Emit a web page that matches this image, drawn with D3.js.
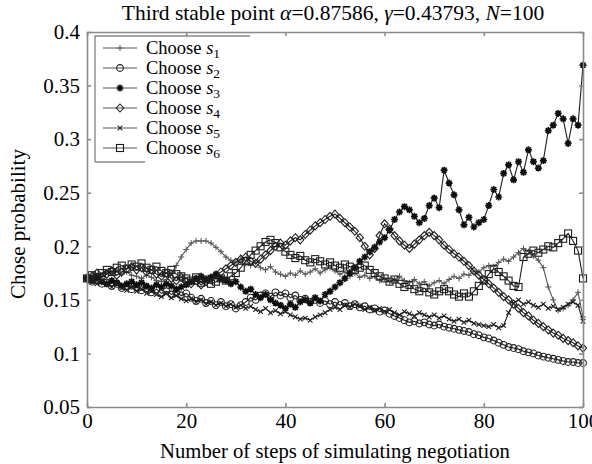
<!DOCTYPE html>
<html>
<head>
<meta charset="utf-8">
<script src="https://cdn.jsdelivr.net/npm/d3@7"></script>
<style>
  body { margin: 0; background: #fff; }
  svg { display: block; }
  .axis path, .axis line { stroke: #8a8a8a; stroke-width: 1.6; }
</style>
</head>
<body>
<svg id="chart" width="592" height="464"></svg>
<script>
// steps 0..100
var steps = d3.range(0, 101);
var seriesNames = ["1", "2", "3", "4", "5", "6"];
var xTicks = [0, 20, 40, 60, 80, 100];
var yTicks = [0.05, 0.1, 0.15, 0.2, 0.25, 0.3, 0.35, 0.4];

var s1 = [0.170,0.172,0.169,0.173,0.176,0.175,0.178,0.174,0.176,0.173,0.172,
  0.170,0.173,0.171,0.168,0.167,0.169,0.175,0.182,0.190,0.197,
  0.203,0.205,0.205,0.205,0.203,0.199,0.195,0.190,0.187,0.185,
  0.188,0.184,0.182,0.185,0.180,0.178,0.181,0.176,0.174,0.172,
  0.175,0.173,0.177,0.174,0.176,0.179,0.175,0.178,0.180,0.177,
  0.174,0.176,0.172,0.175,0.171,0.173,0.170,0.172,0.168,0.170,
  0.167,0.169,0.172,0.168,0.166,0.169,0.165,0.167,0.163,0.166,
  0.168,0.165,0.169,0.172,0.170,0.174,0.173,0.177,0.176,0.180,
  0.182,0.181,0.185,0.188,0.186,0.190,0.194,0.198,0.195,0.191,
  0.187,0.180,0.162,0.150,0.140,0.142,0.145,0.150,0.157,0.134];
var s2 = [0.170,0.167,0.168,0.165,0.166,0.163,0.165,0.161,0.163,0.160,0.162,
  0.159,0.161,0.157,0.160,0.156,0.158,0.155,0.157,0.154,0.156,
  0.152,0.149,0.151,0.147,0.149,0.145,0.148,0.144,0.146,0.142,
  0.145,0.148,0.152,0.150,0.154,0.156,0.153,0.157,0.154,0.156,
  0.152,0.154,0.150,0.151,0.148,0.150,0.147,0.149,0.146,0.148,
  0.145,0.147,0.144,0.146,0.143,0.144,0.141,0.142,0.139,0.140,
  0.137,0.135,0.133,0.131,0.129,0.130,0.128,0.129,0.127,0.126,
  0.127,0.125,0.124,0.123,0.122,0.121,0.120,0.118,0.117,0.115,
  0.114,0.112,0.110,0.108,0.106,0.105,0.104,0.102,0.101,0.100,
  0.098,0.097,0.096,0.095,0.094,0.093,0.092,0.092,0.091,0.091];
var s3 = [0.170,0.168,0.171,0.167,0.165,0.168,0.166,0.163,0.165,0.167,0.164,
  0.166,0.163,0.161,0.164,0.162,0.165,0.163,0.160,0.162,0.164,
  0.167,0.170,0.172,0.169,0.171,0.174,0.170,0.168,0.165,0.167,
  0.162,0.158,0.160,0.155,0.152,0.155,0.150,0.147,0.145,0.142,
  0.146,0.143,0.148,0.150,0.147,0.152,0.149,0.155,0.158,0.162,
  0.166,0.170,0.175,0.180,0.186,0.190,0.195,0.199,0.204,0.208,
  0.215,0.225,0.232,0.237,0.234,0.228,0.222,0.226,0.238,0.245,
  0.236,0.271,0.259,0.248,0.234,0.220,0.227,0.218,0.222,0.225,
  0.238,0.253,0.246,0.268,0.276,0.262,0.279,0.269,0.290,0.279,
  0.273,0.280,0.308,0.313,0.324,0.319,0.296,0.319,0.313,0.369];
var s4 = [0.170,0.172,0.175,0.171,0.174,0.177,0.173,0.176,0.179,0.181,0.178,
  0.180,0.176,0.178,0.174,0.172,0.175,0.170,0.168,0.171,0.167,
  0.165,0.168,0.164,0.167,0.170,0.173,0.176,0.179,0.182,0.185,
  0.188,0.190,0.186,0.184,0.188,0.192,0.196,0.200,0.203,0.201,
  0.205,0.208,0.206,0.211,0.215,0.219,0.222,0.225,0.228,0.230,
  0.226,0.222,0.218,0.214,0.208,0.200,0.192,0.198,0.210,0.221,
  0.216,0.210,0.205,0.201,0.198,0.202,0.206,0.210,0.213,0.210,
  0.206,0.201,0.197,0.193,0.190,0.186,0.182,0.177,0.173,0.169,
  0.165,0.161,0.157,0.153,0.150,0.146,0.142,0.138,0.135,0.131,
  0.128,0.125,0.122,0.119,0.117,0.114,0.112,0.110,0.107,0.105];
var s5 = [0.170,0.167,0.165,0.168,0.164,0.162,0.165,0.161,0.159,0.162,0.158,
  0.160,0.156,0.158,0.155,0.153,0.156,0.152,0.154,0.151,0.149,
  0.151,0.148,0.150,0.146,0.148,0.145,0.147,0.144,0.146,0.143,
  0.145,0.142,0.144,0.141,0.139,0.142,0.138,0.140,0.137,0.139,
  0.136,0.134,0.132,0.133,0.131,0.134,0.136,0.138,0.141,0.143,
  0.141,0.145,0.143,0.146,0.144,0.141,0.143,0.140,0.142,0.139,
  0.141,0.138,0.136,0.139,0.137,0.135,0.138,0.136,0.134,0.136,
  0.133,0.135,0.132,0.130,0.132,0.129,0.131,0.128,0.127,0.126,
  0.125,0.127,0.124,0.126,0.138,0.147,0.150,0.146,0.148,0.145,
  0.143,0.146,0.142,0.144,0.141,0.143,0.146,0.148,0.145,0.130];
var s6 = [0.170,0.173,0.171,0.175,0.178,0.176,0.180,0.182,0.179,0.183,0.181,
  0.184,0.180,0.178,0.181,0.177,0.175,0.178,0.174,0.172,0.170,
  0.168,0.171,0.166,0.169,0.165,0.167,0.170,0.168,0.172,0.175,
  0.180,0.186,0.192,0.196,0.200,0.204,0.206,0.203,0.199,0.195,
  0.192,0.189,0.191,0.187,0.185,0.188,0.186,0.183,0.185,0.182,
  0.180,0.183,0.181,0.178,0.180,0.182,0.178,0.175,0.172,0.170,
  0.167,0.169,0.165,0.162,0.164,0.160,0.158,0.161,0.157,0.155,
  0.158,0.160,0.158,0.155,0.153,0.156,0.153,0.158,0.163,0.168,
  0.174,0.179,0.176,0.172,0.168,0.163,0.162,0.190,0.193,0.196,
  0.194,0.197,0.200,0.199,0.203,0.207,0.212,0.205,0.196,0.170];

var allSeries = [s1, s2, s3, s4, s5, s6];

var serif = "'Liberation Serif', 'Times New Roman', Times, serif";
var svg = d3.select("#chart").attr("font-family", serif);
var margin = { top: 32, right: 9, bottom: 57, left: 87 };
var width = 592 - margin.left - margin.right;
var height = 464 - margin.top - margin.bottom;

var x = d3.scaleLinear().domain([0, 100]).range([margin.left, margin.left + width]);
var y = d3.scaleLinear().domain([0.05, 0.4]).range([margin.top + height, margin.top]);

var defs = svg.append("defs");
defs.append("filter").attr("id", "soft")
  .append("feGaussianBlur").attr("stdDeviation", 0.55);

// marker drawers, one per series
var ink = "#1e1e1e";
function drawMarker(g, k) {
  if (k === 0) {          // plus
    g.append("path").attr("d", "M-3,0H3M0,-3V3").attr("stroke", "#555").attr("stroke-width", 1);
  } else if (k === 1) {   // circle
    g.append("circle").attr("r", 3.4).attr("fill", "none").attr("stroke", ink).attr("stroke-width", 1.1);
  } else if (k === 2) {   // star
    g.append("path").attr("d", "M-3.5,0H3.5M0,-3.5V3.5M-2.5,-2.5L2.5,2.5M-2.5,2.5L2.5,-2.5")
      .attr("stroke", "#111").attr("stroke-width", 1.7);
  } else if (k === 3) {   // diamond
    g.append("path").attr("d", "M0,-4L3.6,0L0,4L-3.6,0Z").attr("fill", "none")
      .attr("stroke", ink).attr("stroke-width", 1.1);
  } else if (k === 4) {   // x
    g.append("path").attr("d", "M-2.3,-2.3L2.3,2.3M-2.3,2.3L2.3,-2.3").attr("stroke", ink).attr("stroke-width", 1.1);
  } else {                // square
    g.append("rect").attr("x", -3.5).attr("y", -3.5).attr("width", 7).attr("height", 7)
      .attr("fill", "none").attr("stroke", ink).attr("stroke-width", 1.1);
  }
}

var line = d3.line().x(function (d, i) { return x(steps[i]); }).y(function (d) { return y(d); });

var plot = svg.append("g").attr("filter", "url(#soft)");
allSeries.forEach(function (vals, k) {
  plot.append("path")
    .attr("d", line(vals))
    .attr("fill", "none")
    .attr("stroke", k === 0 ? "#555" : ink)
    .attr("stroke-width", 1.1);
  vals.forEach(function (v, i) {
    var g = plot.append("g").attr("transform", "translate(" + [x(steps[i]), y(v)] + ")");
    drawMarker(g, k);
  });
});

// axes, ticks pointing inward on all four sides
var fmtY = function (d) { return String(+d.toFixed(2)); };
function styleAxis(g) {
  g.attr("font-family", serif).attr("font-size", 21);
  g.selectAll("text").attr("fill", "#000");
}
svg.append("g").attr("class", "axis")
  .attr("transform", "translate(0," + (margin.top + height) + ")")
  .call(d3.axisBottom(x).tickValues(xTicks).tickSizeInner(-4).tickSizeOuter(0).tickPadding(6).tickFormat(d3.format("d")))
  .call(styleAxis);
svg.append("g").attr("class", "axis")
  .attr("transform", "translate(0," + margin.top + ")")
  .call(d3.axisTop(x).tickValues(xTicks).tickSizeInner(-4).tickSizeOuter(0).tickFormat(""));
svg.append("g").attr("class", "axis")
  .attr("transform", "translate(" + margin.left + ",0)")
  .call(d3.axisLeft(y).tickValues(yTicks).tickSizeInner(-4).tickSizeOuter(0).tickPadding(7).tickFormat(fmtY))
  .call(styleAxis);
svg.append("g").attr("class", "axis")
  .attr("transform", "translate(" + (margin.left + width) + ",0)")
  .call(d3.axisRight(y).tickValues(yTicks).tickSizeInner(-4).tickSizeOuter(0).tickFormat(""));

// title
var title = svg.append("text")
  .attr("x", 333).attr("y", 20)
  .attr("text-anchor", "middle")
  .attr("font-size", 21.5);
title.append("tspan").text("Third stable point ");
title.append("tspan").attr("font-style", "italic").text("\u03b1");
title.append("tspan").text("=0.87586, ");
title.append("tspan").attr("font-style", "italic").text("\u03b3");
title.append("tspan").text("=0.43793, ");
title.append("tspan").attr("font-style", "italic").text("N");
title.append("tspan").text("=100");

// axis labels
svg.append("text")
  .attr("x", 335).attr("y", 458)
  .attr("text-anchor", "middle")
  .attr("font-size", 20.7)
  .text("Number of steps of simulating negotiation");
svg.append("text")
  .attr("transform", "translate(25,224) rotate(-90)")
  .attr("text-anchor", "middle")
  .attr("font-size", 21)
  .text("Chose probability");

// legend
var legend = svg.append("g").attr("class", "legend");
legend.append("path")
  .attr("d", "M95,162V36H250M95,162H145")
  .attr("fill", "none").attr("stroke", "#8a8a8a").attr("stroke-width", 1.4);
seriesNames.forEach(function (name, k) {
  var cy = 48 + k * 20;
  var row = legend.append("g").attr("filter", "url(#soft)");
  row.append("line").attr("x1", 103).attr("x2", 137).attr("y1", cy).attr("y2", cy)
    .attr("stroke", "#555").attr("stroke-width", 1.1);
  drawMarker(row.append("g").attr("transform", "translate(120," + cy + ")"), k);
  var t = legend.append("text").attr("x", 146).attr("y", cy + 6).attr("font-size", 18.5);
  t.append("tspan").text("Choose ");
  t.append("tspan").attr("font-style", "italic").text("s");
  t.append("tspan").attr("dy", 4).attr("font-size", 13.5).text(name);
});
</script>
</body>
</html>
